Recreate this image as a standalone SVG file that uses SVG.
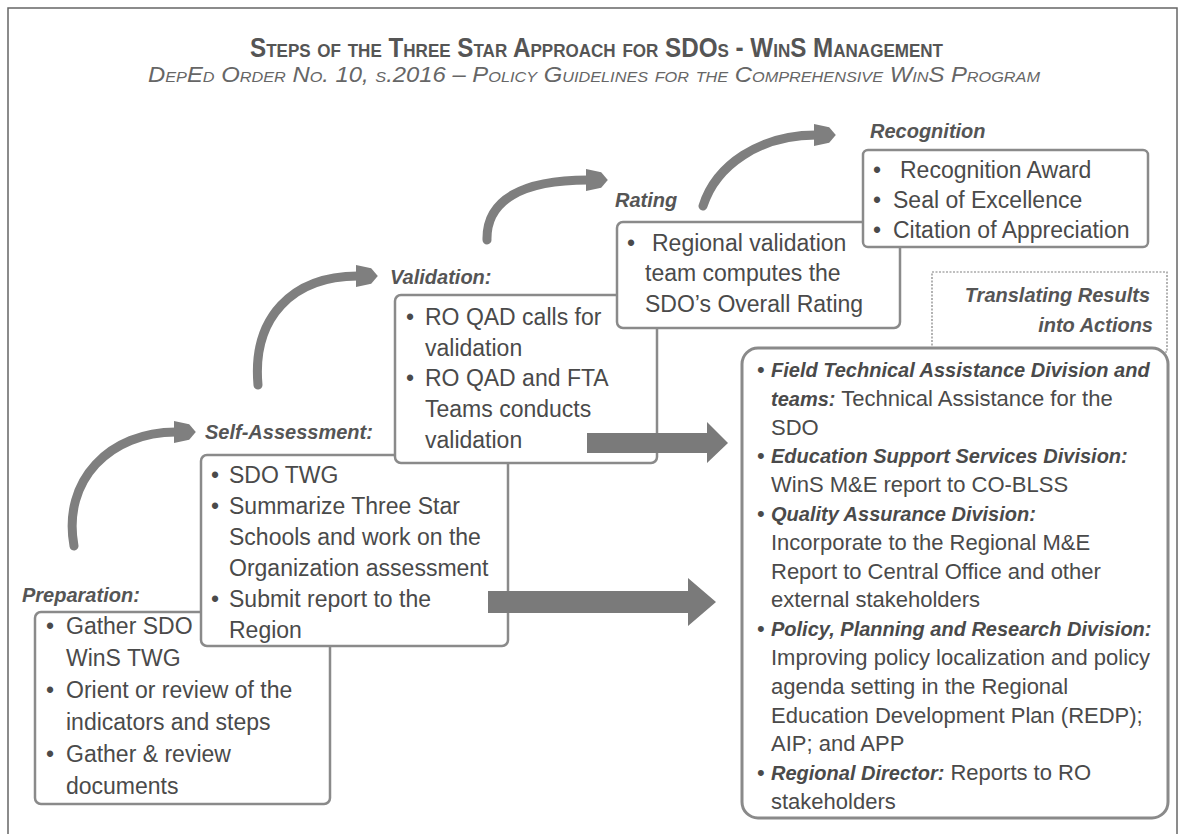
<svg xmlns="http://www.w3.org/2000/svg" width="1184" height="834" viewBox="0 0 1184 834">
<defs>
<marker id="head" viewBox="0 0 10 10" refX="1" refY="5" markerWidth="22" markerHeight="24" markerUnits="userSpaceOnUse" orient="auto">
<path d="M0,0 L7,1.5 L10,5 L7,8.5 L0,10 z" fill="#7f7f7f"/>
</marker>
<style>
text{font-family:"Liberation Sans",Arial,sans-serif;fill:#4a4a4a}
.title{font-size:27px;font-weight:bold;font-variant:small-caps;fill:#555}
.sub{font-size:22px;font-style:italic;font-variant:small-caps;fill:#666}
.lbl{font-size:20px;font-weight:bold;font-style:italic;fill:#555}
.b{font-size:23px}
.a{font-size:22px}
.bi{font-weight:bold;font-style:italic;font-size:20px}
.box{fill:#fff;stroke:#8a8a8a;stroke-width:2.5}
.act{fill:#fff;stroke:#8a8a8a;stroke-width:3}
.tr{fill:#fff;stroke:#808080;stroke-width:1.2;stroke-dasharray:2 1.5}
.curve{fill:none;stroke:#7f7f7f;stroke-width:9;stroke-linecap:round;marker-end:url(#head)}
.block{fill:#7a7a7a}
</style>
</defs>
<rect x="8" y="8" width="1169" height="840" fill="#fff" stroke="#666" stroke-width="1.5"/>
<g id="title">
<text class="title" x="250" y="57" textLength="693" lengthAdjust="spacingAndGlyphs">Steps of the Three Star Approach for SDOs - WinS Management</text>
<text class="sub" x="148" y="82" textLength="892" lengthAdjust="spacingAndGlyphs">DepEd Order No. 10, s.2016 – Policy Guidelines for the Comprehensive WinS Program</text>
</g>
<g id="preparation">
<text class="lbl" x="22" y="602">Preparation:</text>
<rect class="box" x="35" y="612" width="295" height="192" rx="6"/>
<text class="b" x="46" y="634">•</text><text class="b" x="66" y="634">Gather SDO</text>
<text class="b" x="66" y="666">WinS TWG</text>
<text class="b" x="46" y="698">•</text><text class="b" x="66" y="698">Orient or review of the</text>
<text class="b" x="66" y="730">indicators and steps</text>
<text class="b" x="46" y="762">•</text><text class="b" x="66" y="762">Gather &amp; review</text>
<text class="b" x="66" y="794">documents</text>
</g>
<g id="self-assessment">
<text class="lbl" x="205" y="439">Self-Assessment:</text>
<rect class="box" x="201" y="455" width="307" height="191" rx="6"/>
<text class="b" x="211" y="483">•</text><text class="b" x="229" y="483">SDO TWG</text>
<text class="b" x="211" y="514">•</text><text class="b" x="229" y="514">Summarize Three Star</text>
<text class="b" x="229" y="545">Schools and work on the</text>
<text class="b" x="229" y="576">Organization assessment</text>
<text class="b" x="211" y="607">•</text><text class="b" x="229" y="607">Submit report to the</text>
<text class="b" x="229" y="638">Region</text>
</g>
<g id="validation">
<text class="lbl" x="390" y="284">Validation:</text>
<rect class="box" x="395" y="295" width="262" height="168" rx="6"/>
<text class="b" x="406" y="325">•</text><text class="b" x="425" y="325">RO QAD calls for</text>
<text class="b" x="425" y="356">validation</text>
<text class="b" x="406" y="386">•</text><text class="b" x="425" y="386">RO QAD and FTA</text>
<text class="b" x="425" y="417">Teams conducts</text>
<text class="b" x="425" y="448">validation</text>
</g>
<g id="rating">
<text class="lbl" x="615" y="207">Rating</text>
<rect class="box" x="617" y="222" width="283" height="106" rx="6"/>
<text class="b" x="627" y="251">•</text><text class="b" x="652" y="251">Regional validation</text>
<text class="b" x="645" y="281">team computes the</text>
<text class="b" x="645" y="312">SDO’s Overall Rating</text>
</g>
<g id="recognition">
<text class="lbl" x="870" y="138">Recognition</text>
<rect class="box" x="863" y="150" width="285" height="97" rx="5"/>
<text class="b" x="873" y="178">•</text><text class="b" x="900" y="178">Recognition Award</text>
<text class="b" x="873" y="208">•</text><text class="b" x="893" y="208">Seal of Excellence</text>
<text class="b" x="873" y="238">•</text><text class="b" x="893" y="238">Citation of Appreciation</text>
</g>
<g id="translating">
<rect class="tr" x="932" y="272" width="235" height="80"/>
<text class="lbl" x="1150" y="302" text-anchor="end">Translating  Results</text>
<text class="lbl" x="1153" y="332" text-anchor="end">into Actions</text>
</g>
<g id="actions">
<rect class="act" x="742" y="348" width="426" height="470" rx="16"/>
<text class="a" x="757" y="377">•</text><text class="bi" x="771" y="377">Field Technical Assistance Division and</text>
<text class="a" x="771" y="406"><tspan class="bi">teams:</tspan> Technical Assistance for the</text>
<text class="a" x="771" y="435">SDO</text>
<text class="a" x="757" y="463">•</text><text class="bi" x="771" y="463">Education Support Services Division:</text>
<text class="a" x="771" y="492">WinS M&amp;E report to CO-BLSS</text>
<text class="a" x="757" y="521">•</text><text class="bi" x="771" y="521">Quality Assurance Division:</text>
<text class="a" x="771" y="550">Incorporate to the Regional M&amp;E</text>
<text class="a" x="771" y="579">Report to Central Office and other</text>
<text class="a" x="771" y="607">external stakeholders</text>
<text class="a" x="757" y="636">•</text><text class="bi" x="771" y="636">Policy, Planning and Research Division:</text>
<text class="a" x="771" y="665">Improving policy localization and policy</text>
<text class="a" x="771" y="694">agenda setting in the Regional</text>
<text class="a" x="771" y="723">Education Development Plan (REDP);</text>
<text class="a" x="771" y="751">AIP; and APP</text>
<text class="a" x="757" y="780">•</text><text class="a" x="771" y="780"><tspan class="bi">Regional Director:</tspan> Reports to RO</text>
<text class="a" x="771" y="809">stakeholders</text>
</g>
<g id="connectors">
<path class="curve" d="M74 546 C62 480 110 432 176 432"/>
<path class="curve" d="M258 385 C252 318 292 276 358 276"/>
<path class="curve" d="M487 240 C486 200 522 180 588 180"/>
<path class="curve" d="M703 206 C716 165 760 135 816 135"/>
<polygon class="block" points="587,433 707,433 707,422 728,443 707,463 707,453 587,453"/>
<polygon class="block" points="488,591 688,591 688,578 716,602 688,626 688,613 488,613"/>
</g>
</svg>
